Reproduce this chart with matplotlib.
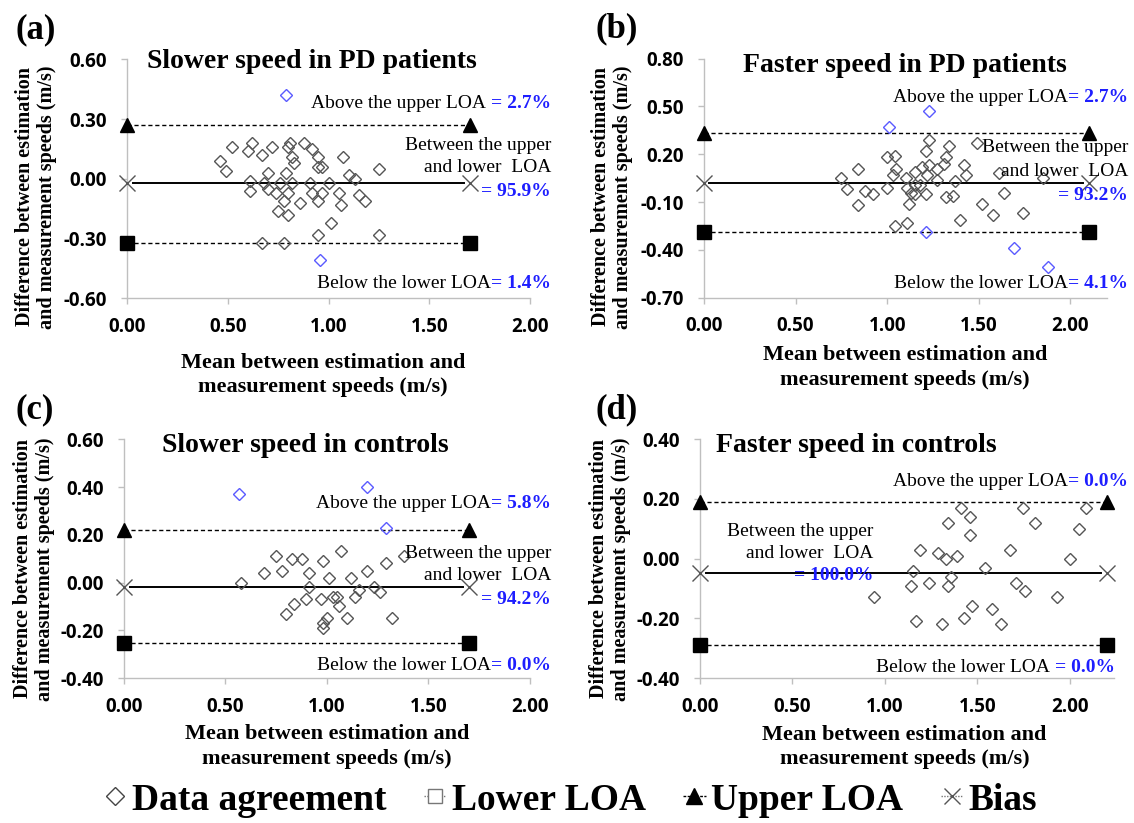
import numpy as np
import matplotlib
matplotlib.use('Agg')
import matplotlib.pyplot as plt
from matplotlib.lines import Line2D
from matplotlib.ticker import FormatStrFormatter

plt.rcParams['axes.unicode_minus'] = False

W, H = 1134, 823
SERIF = 'Liberation Serif'
SANS = ['Open Sans', 'DejaVu Sans']
BLUE = '#1E1EFF'
DBLUE = '#5A5AFF'
GRAY = '#BFBFBF'

# ---------------- data ----------------
# (a) slower speed, PD patients
a_x = [0.46, 0.49, 0.52, 0.60, 0.62, 0.67, 0.72, 0.61, 0.61, 0.70, 0.68, 0.70,
       0.74, 0.76, 0.79, 0.80, 0.81, 0.82, 0.83, 0.82, 0.80, 0.78, 0.75, 0.80,
       0.86, 0.88, 0.92, 0.95, 0.95, 0.97, 0.91, 0.92, 0.95, 0.97, 1.00, 1.01,
       0.95, 1.05, 1.06, 1.07, 1.10, 1.13, 1.15, 1.18, 1.25, 1.25, 0.67, 0.78]
a_y = [0.09, 0.04, 0.16, 0.14, 0.18, 0.12, 0.16, -0.01, -0.06, 0.03, -0.02, -0.05,
       -0.07, -0.02, 0.03, 0.16, 0.18, 0.11, 0.08, -0.02, -0.07, -0.11, -0.16, -0.18,
       -0.12, 0.18, 0.15, 0.11, 0.06, 0.06, -0.02, -0.07, -0.11, -0.07, -0.02, -0.22,
       -0.28, -0.07, -0.13, 0.11, 0.02, 0.00, -0.08, -0.11, 0.05, -0.28, -0.32, -0.32]
a_out_x = [0.79, 0.96]
a_out_y = [0.42, -0.41]
a_loa = (0.27, -0.02, -0.32)   # upper, bias, lower
a_end = 1.70

# (b) faster speed, PD patients
b_x = [0.75, 0.78, 0.84, 0.84, 0.88, 0.92, 1.00, 1.00, 1.04, 1.05, 1.03, 1.10,
       1.15, 1.11, 1.13, 1.12, 1.04, 1.11, 1.18, 1.22, 1.19, 1.21, 1.23, 1.23,
       1.27, 1.27, 1.31, 1.32, 1.34, 1.37, 1.42, 1.43, 1.32, 1.36, 1.15, 1.21,
       1.15, 1.40, 1.49, 1.52, 1.58, 1.61, 1.64, 1.74, 1.85]
b_y = [0.05, -0.02, 0.11, -0.12, -0.03, -0.05, -0.01, 0.18, 0.19, 0.11, 0.07, 0.05,
       0.09, -0.01, -0.04, -0.11, -0.25, -0.23, 0.01, 0.07, 0.12, 0.22, 0.29, 0.13,
       0.11, 0.04, 0.14, 0.18, 0.25, 0.03, 0.13, 0.07, -0.07, -0.06, 0.01, -0.05,
       -0.05, -0.21, 0.27, -0.11, -0.18, 0.08, -0.04, -0.17, 0.05]
b_out_x = [1.23, 1.01, 1.21, 1.69, 1.88]
b_out_y = [0.47, 0.37, -0.29, -0.39, -0.51]
b_loa = (0.335, 0.02, -0.29)
b_end = 2.10

# (c) slower speed, controls
c_x = [0.75, 0.83, 0.88, 0.98, 1.07, 0.69, 0.78, 0.91, 1.01, 1.12, 1.20, 1.29,
       1.38, 0.58, 0.91, 0.90, 0.97, 1.03, 1.05, 1.14, 1.16, 1.23, 1.26, 0.84,
       0.80, 1.06, 1.00, 1.10, 0.98, 0.98, 1.32]
c_y = [0.11, 0.10, 0.10, 0.09, 0.13, 0.04, 0.05, 0.04, 0.02, 0.02, 0.05, 0.08,
       0.11, 0.00, -0.02, -0.07, -0.07, -0.06, -0.06, -0.06, -0.03, -0.02, -0.04, -0.09,
       -0.13, -0.10, -0.15, -0.15, -0.17, -0.19, -0.15]
c_out_x = [0.57, 1.20, 1.29]
c_out_y = [0.37, 0.40, 0.23]
c_loa = (0.22, -0.017, -0.255)
c_end = 1.70

# (d) faster speed, controls
d_x = [1.41, 1.46, 1.34, 1.46, 1.19, 1.29, 1.33, 1.39, 1.15, 1.36, 1.54, 1.68,
       1.75, 1.81, 2.09, 2.05, 2.00, 0.94, 1.14, 1.24, 1.34, 1.71, 1.76, 1.93,
       1.47, 1.58, 1.43, 1.17, 1.31, 1.63]
d_y = [0.17, 0.14, 0.12, 0.08, 0.03, 0.02, 0.00, 0.01, -0.04, -0.06, -0.03, 0.03,
       0.17, 0.12, 0.17, 0.10, 0.00, -0.13, -0.09, -0.08, -0.09, -0.08, -0.11, -0.13,
       -0.16, -0.17, -0.20, -0.21, -0.22, -0.22]
d_out_x = []
d_out_y = []
d_loa = (0.19, -0.048, -0.29)
d_end = 2.20

fig = plt.figure(figsize=(W / 100, H / 100), dpi=100)


def fx(x):
    return x / W


def fy(y):
    return 1 - y / H


def box(l, t, r, b):
    return [l / W, 1 - b / H, (r - l) / W, (b - t) / H]


def panel(rect, xs, ys, oxs, oys, loa, x_end, xlim, ylim, ystep):
    upper, bias, lower = loa
    ax = fig.add_axes(box(*rect))
    ax.plot([0, x_end], [upper, upper], ls=(0, (3, 2)), color='black', lw=1,
            marker='^', ms=10, mfc='black', mec='black', clip_on=False, zorder=3)
    ax.plot([0, x_end], [lower, lower], ls=(0, (3, 2)), color='black', lw=1,
            marker='s', ms=10, mfc='black', mec='black', clip_on=False, zorder=3)
    ax.plot([0.03, x_end - 0.03], [bias, bias], ls='-', color='black', lw=1.4, zorder=2)
    ax.plot([0, x_end], [bias, bias], ls='none', marker='x', ms=11, mec='#555555',
            mew=1, clip_on=False, zorder=3)
    ax.plot(xs, ys, ls='none', marker='D', ms=6.5, mfc='none', mec='#555555',
            mew=1, zorder=4)
    ax.plot(oxs, oys, ls='none', marker='D', ms=6.5, mfc='none', mec=DBLUE,
            mew=1, zorder=4)
    ax.set_xlim(*xlim)
    ax.set_ylim(*ylim)
    ax.set_xticks(np.arange(0, 2.01, 0.5))
    ax.set_yticks(np.arange(ylim[0], ylim[1] + 1e-6, ystep))
    ax.xaxis.set_major_formatter(FormatStrFormatter('%.2f'))
    ax.yaxis.set_major_formatter(FormatStrFormatter('%.2f'))
    for s in ['top', 'right']:
        ax.spines[s].set_visible(False)
    for s in ['left', 'bottom']:
        ax.spines[s].set_color(GRAY)
        ax.spines[s].set_linewidth(1)
    ax.tick_params(direction='out', length=4.5, width=1, color=GRAY, labelsize=13.5)
    ax.tick_params(axis='x', pad=9)
    ax.tick_params(axis='y', pad=10)
    for lbl in ax.get_xticklabels() + ax.get_yticklabels():
        lbl.set_fontfamily(SANS)
        lbl.set_fontweight('bold')
    ax.patch.set_alpha(0)
    return ax


panel((127, 59.3, 530, 298.3), a_x, a_y, a_out_x, a_out_y, a_loa, a_end, (0, 2.0), (-0.6, 0.6), 0.3)
panel((704, 58.7, 1107, 297.7), b_x, b_y, b_out_x, b_out_y, b_loa, b_end, (0, 2.2), (-0.7, 0.8), 0.3)
panel((123.6, 439.3, 530, 678), c_x, c_y, c_out_x, c_out_y, c_loa, c_end, (0, 2.0), (-0.4, 0.6), 0.2)
panel((700, 439.3, 1114, 678), d_x, d_y, d_out_x, d_out_y, d_loa, d_end, (0, 2.24), (-0.4, 0.4), 0.2)

renderer = fig.canvas.get_renderer()


def two_part(xr, y, black, blue, gap=0):
    t = fig.text(fx(xr), fy(y), blue, ha='right', va='center', color=BLUE,
                 fontweight='bold', family=SERIF, fontsize=14)
    bb = t.get_window_extent(renderer)
    fig.text((bb.x0 - gap) / W, fy(y), black, ha='right', va='center',
             family=SERIF, fontsize=14)


def between(xr, ys, blue):
    fig.text(fx(xr), fy(ys[0]), 'Between the upper', ha='right', va='center', family=SERIF, fontsize=14)
    fig.text(fx(xr), fy(ys[1]), 'and lower  LOA', ha='right', va='center', family=SERIF, fontsize=14)
    fig.text(fx(xr), fy(ys[2]), blue, ha='right', va='center', color=BLUE,
             fontweight='bold', family=SERIF, fontsize=14)


# annotations
two_part(551, 103, 'Above the upper LOA', '= 2.7%', gap=5)
between(551, (145, 168, 192), '= 95.9%')
two_part(551, 283, 'Below the lower LOA', '= 1.4%')

two_part(1128, 97, 'Above the upper LOA', '= 2.7%')
between(1128, (148, 172, 195), '= 93.2%')
two_part(1128, 283, 'Below the lower LOA', '= 4.1%')

two_part(551, 504, 'Above the upper LOA', '= 5.8%')
between(551, (553, 576, 599), '= 94.2%')
two_part(551, 665, 'Below the lower LOA', '= 0.0%')

two_part(1128, 481, 'Above the upper LOA', '= 0.0%')
between(873, (531, 553, 576), '= 100.0%')
two_part(1115, 667, 'Below the lower LOA', '= 0.0%', gap=5)

# titles
titles = ['Slower speed in PD patients', 'Faster speed in PD patients',
          'Slower speed in controls', 'Faster speed in controls']
title_pos = [(147, 62), (743, 65), (162, 445), (716, 445)]
for txt, (x, y) in zip(titles, title_pos):
    fig.text(fx(x), fy(y), txt, ha='left', va='center', family=SERIF,
             fontweight='bold', fontsize=20)

# panel letters
for txt, (x, y) in zip(['(a)', '(b)', '(c)', '(d)'], [(36, 30), (617, 29), (35, 410), (617, 410)]):
    fig.text(fx(x), fy(y), txt, ha='center', va='center', family=SERIF,
             fontweight='bold', fontsize=25)

# axis labels
ylab = 'Difference between estimation\nand measurement speeds (m/s)'
xlab = 'Mean between estimation and\nmeasurement speeds (m/s)'
for (x, y) in [(36, 197), (612, 197), (34, 569), (610, 569)]:
    fig.text(fx(x), fy(y), ylab, rotation=90, ha='center', va='center', family=SERIF,
             fontweight='bold', fontsize=14.5, linespacing=1.1, multialignment='center')
for (x, y) in [(323, 375), (905, 367.5), (327, 746.5), (904.5, 747)]:
    fig.text(fx(x), fy(y), xlab, ha='center', va='center', family=SERIF,
             fontweight='bold', fontsize=16, linespacing=1.3, multialignment='center')

# legend
handles = [
    Line2D([], [], ls='none', marker='D', ms=9, mfc='none', mec='#444444', mew=1),
    Line2D([], [], ls=(0, (1, 1)), color='#777777', lw=1, marker='s', ms=10,
           mfc='white', mec='#777777', mew=1),
    Line2D([], [], ls=(0, (2, 1)), color='black', lw=1, marker='^', ms=12,
           mfc='black', mec='black'),
    Line2D([], [], ls=(0, (1, 1)), color='#777777', lw=1, marker='x', ms=12,
           mec='#555555', mew=1),
]
labels = ['Data agreement', 'Lower LOA', 'Upper LOA', 'Bias']
fig.legend(handles, labels, loc='center', bbox_to_anchor=(0.503, fy(800)), ncol=4,
           frameon=False, prop={'family': SERIF, 'weight': 'bold', 'size': 27},
           handlelength=0.6, handletextpad=0.15, columnspacing=1.0)

fig.savefig('out.png', dpi=100)
